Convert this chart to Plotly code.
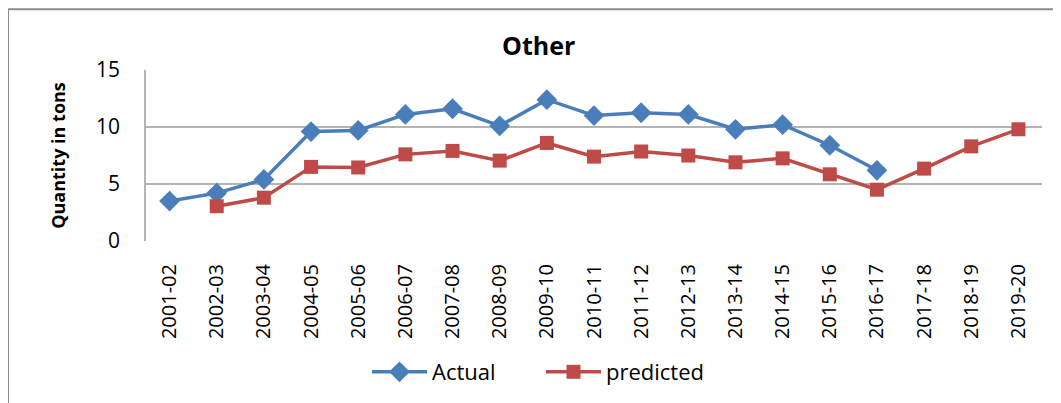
import plotly.graph_objects as go

categories = ["2001-02", "2002-03", "2003-04", "2004-05", "2005-06", "2006-07", "2007-08",
              "2008-09", "2009-10", "2010-11", "2011-12", "2012-13", "2013-14", "2014-15",
              "2015-16", "2016-17", "2017-18", "2018-19", "2019-20"]
actual = [3.5, 4.2, 5.4, 9.6, 9.7, 11.1, 11.6, 10.1, 12.4, 11.0, 11.25, 11.1, 9.8, 10.2,
          8.4, 6.2, None, None, None]
predicted = [None, 3.05, 3.8, 6.5, 6.45, 7.6, 7.9, 7.05, 8.6, 7.4, 7.85, 7.5, 6.9, 7.25,
             5.85, 4.5, 6.35, 8.3, 9.8]
y_ticks = [0, 5, 10, 15]

FONT = "Open Sans"
blue = "#4A7EBB"
red = "#BE4B48"

fig = go.Figure()
fig.add_trace(go.Scatter(x=categories, y=actual, name="Actual", mode="lines+markers",
                         line=dict(color=blue, width=3.5),
                         marker=dict(symbol="diamond", size=16, color=blue)))
fig.add_trace(go.Scatter(x=categories, y=predicted, name="predicted", mode="lines+markers",
                         line=dict(color=red, width=3.5),
                         marker=dict(symbol="square", size=14, color=red)))

OFF = 8  # browser body margin
W, H = 1061 - OFF, 403 - OFF
# plot area in reference pixel coords: x 146..1042, y 70..242
L = 146 - OFF
R = W - (1042 - OFF)
T = 70 - OFF
B = H - (242 - OFF)
pw, ph = W - L - R, H - T - B

def px(x):
    return (x - OFF - L) / pw

def py(y):
    return (H - B - (y - OFF)) / ph

fig.update_layout(
    width=W, height=H,
    margin=dict(l=L, r=R, t=T, b=B),
    paper_bgcolor="white", plot_bgcolor="white",
    font=dict(family=FONT, color="black"),
    showlegend=True,
    legend=dict(orientation="h", x=px(541), xanchor="center", y=py(372), yanchor="middle",
                font=dict(size=22, family=FONT), traceorder="normal", itemwidth=55,
                entrywidth=104, entrywidthmode="pixels"),
    xaxis=dict(type="category", tickangle=-90, tickfont=dict(size=20), showgrid=False,
               showline=False, ticks="outside", ticklen=14, tickcolor="rgba(0,0,0,0)",
               range=[-0.5, 18.5], zeroline=False),
    yaxis=dict(range=[0, 15], tickvals=y_ticks, showgrid=True, gridcolor="#B4B4B4",
               gridwidth=1.5, showline=True, linecolor="#B4B4B4", linewidth=1.5,
               tickfont=dict(size=21), ticks="outside", ticklen=20, tickcolor="rgba(0,0,0,0)",
               zeroline=False,
               title=dict(text="<b>Quantity in tons</b>", font=dict(size=18), standoff=26)),
    shapes=[dict(type="rect", xref="paper", yref="paper", x0=px(8), x1=px(1080),
                 y0=py(420), y1=py(9), line=dict(color="#8C8C8C", width=2),
                 fillcolor="rgba(0,0,0,0)", layer="below")],
    annotations=[dict(text="<b>Other</b>", xref="paper", yref="paper", x=px(538), y=py(45),
                      xanchor="center", yanchor="middle", showarrow=False,
                      font=dict(size=25, family=FONT))],
)

fig.write_html("out.html")
